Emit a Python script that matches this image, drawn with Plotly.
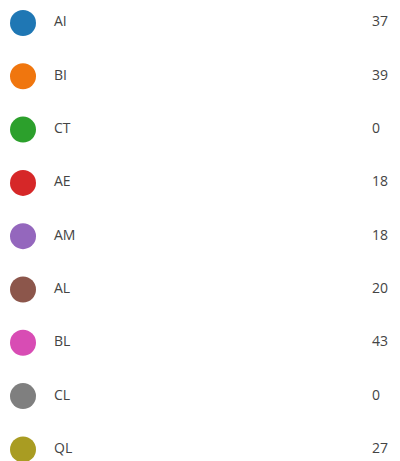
import plotly.graph_objects as go

categories = ["AI", "BI", "CT", "AE", "AM", "AL", "BL", "CL", "QL"]
values = [37, 39, 0, 18, 18, 20, 43, 0, 27]
colors = ["#1f77b4", "#f0760e", "#2ca02c", "#d62728", "#9467bd",
          "#8c564b", "#d84cb4", "#7f7f7f", "#a99c22"]

idx = list(range(len(categories)))
n = len(categories)

fig = go.Figure()
fig.add_trace(go.Scatter(
    x=[23] * n, y=idx, mode="markers",
    marker=dict(size=26, color=colors, line=dict(width=0)),
    hoverinfo="skip", showlegend=False))
fig.add_trace(go.Scatter(
    x=[54] * n, y=idx, mode="text", text=categories,
    textposition="middle right",
    textfont=dict(family="Open Sans", size=14, color="#444444"),
    hoverinfo="skip", showlegend=False))
fig.add_trace(go.Scatter(
    x=[372] * n, y=idx, mode="text", text=[str(v) for v in values],
    textposition="middle right",
    textfont=dict(family="Open Sans", size=14, color="#444444"),
    hoverinfo="skip", showlegend=False))

fig.update_layout(
    width=400, height=461,
    margin=dict(l=0, r=0, t=0, b=0),
    paper_bgcolor="white", plot_bgcolor="white",
    xaxis=dict(range=[0, 400], visible=False, fixedrange=True),
    yaxis=dict(range=[8.218, -0.431], visible=False, fixedrange=True),
)
fig.write_html("out.html", config={"displayModeBar": False},
               post_script="document.body.style.margin='0';document.body.style.overflow='hidden';")
